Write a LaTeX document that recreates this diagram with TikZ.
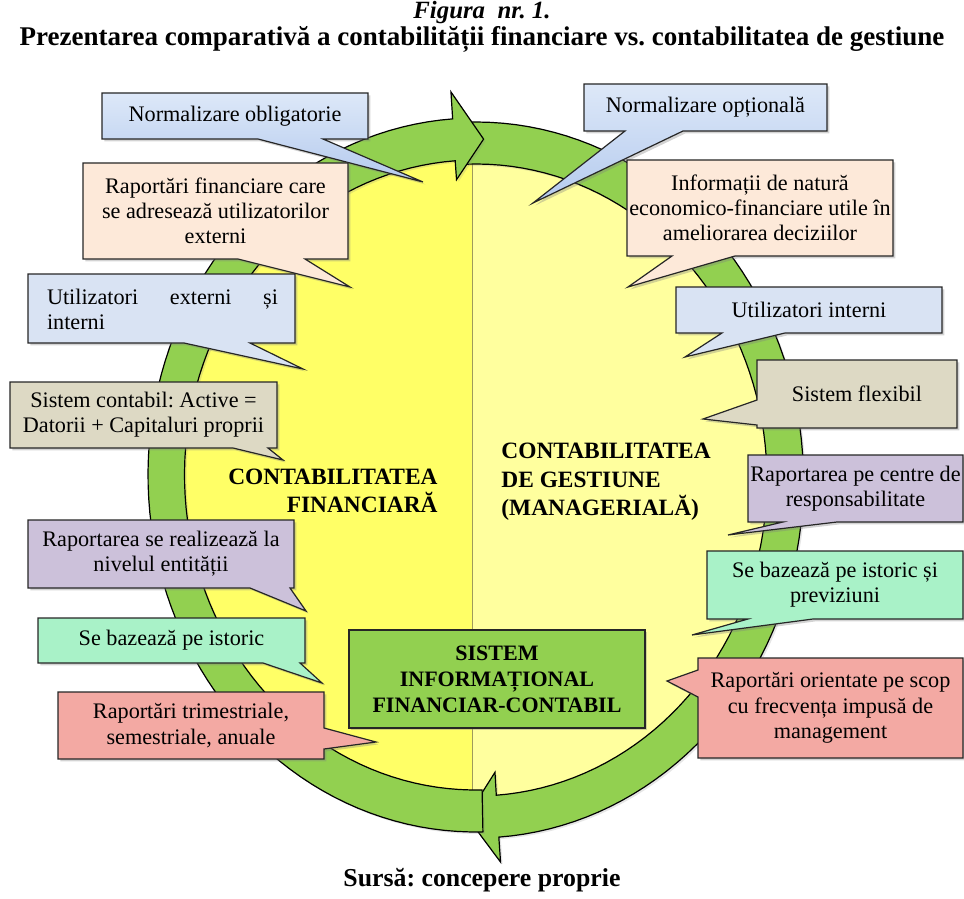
\documentclass[tikz,border=0pt]{standalone}
\usepackage{fontspec}
\setmainfont{Liberation Serif}
\frenchspacing
\usetikzlibrary{shadows}
\definecolor{ringgreen}{HTML}{92D050}
\definecolor{yellowfin}{HTML}{FFFF66}
\definecolor{yellowges}{HTML}{FFFF9E}
\definecolor{bluetop}{HTML}{DDE8F8}
\definecolor{bluebot}{HTML}{B4CAEE}
\definecolor{peach}{HTML}{FDE9D9}
\definecolor{bluegray}{HTML}{D9E3F3}
\definecolor{khaki}{HTML}{DDD9C4}
\definecolor{lavender}{HTML}{CCC1DA}
\definecolor{mint}{HTML}{A9F2C8}
\definecolor{salmon}{HTML}{F3A9A3}
\tikzset{
    callout/.style = {draw=black!85, line width=0.6pt, drop shadow={shadow xshift=1.2pt, shadow yshift=-1.2pt, opacity=0.35}},
    band/.style = {fill=ringgreen, draw=black, line width=0.6pt, drop shadow={shadow xshift=1pt, shadow yshift=-1pt, opacity=0.2}},
    txt/.style = {inner sep=0pt, align=center, font=\fontsize{11.1}{12.6}\selectfont},
    heading/.style = {inner sep=0pt, font=\fontsize{11.7}{14.3}\selectfont\bfseries},
}

\begin{document}
\begin{tikzpicture}[x=0.5pt, y=-0.5pt]
\useasboundingbox (0,0) rectangle (964,899);

% titlu
\node[font=\fontsize{12.4}{14}\selectfont\bfseries\itshape] (fig) at (482,13) {Figura\ \ nr. 1.};
\node[font=\fontsize{13.5}{15}\selectfont\bfseries] (titlu) at (482,39) {Prezentarea comparativă a contabilității financiare vs. contabilitatea de gestiune};

% fondul galben
\begin{scope}
\clip (0,0) rectangle (472,899);
\fill[yellowfin] (475.5,475) ellipse [x radius=300, y radius=330];
\end{scope}
\begin{scope}
\clip (472,0) rectangle (964,899);
\fill[yellowges] (476,480) ellipse [x radius=300, y radius=330];
\end{scope}
\draw[black!40!yellow!70!gray, line width=0.5pt] (472,150) -- (472,800);

% sageata din dreapta
\path[band] plot[domain=268:446, samples=80] ({476+327.5*cos(\x)}, {480+358*sin(\x)})
  -- ({476+352*cos(446)}, {480+383*sin(446)})
  -- ({476+309*cos(451.7)}, {480+337*sin(451.7)})
  -- ({476+272*cos(446)}, {480+293*sin(446)})
  -- plot[domain=446:268, samples=80] ({476+291*cos(\x)}, {480+316*sin(\x)})
  -- cycle;
% sageata din stanga
\path[band] plot[domain=88.7:266, samples=80] ({475.5+327.5*cos(\x)}, {475+357*sin(\x)})
  -- ({475.5+352*cos(266)}, {475+384*sin(266)})
  -- ({475.5+309*cos(271.5)}, {475+336*sin(271.5)})
  -- ({475.5+272*cos(266)}, {475+296*sin(266)})
  -- plot[domain=266:88.7, samples=80] ({475.5+291*cos(\x)}, {475+315*sin(\x)})
  -- cycle;

% casetele din stanga
\path[callout, top color=bluetop, bottom color=bluebot] (102,93) -- (368,93) -- (368,139) -- (323,139) -- (423,182) -- (258,139) -- (102,139) -- cycle;
\node[txt] (nobl) at (235,116) {Normalizare obligatorie};
\path[callout, fill=peach] (83,163) -- (348,163) -- (348,259) -- (305,259) -- (350,287) -- (238,259) -- (83,259) -- cycle;
\node[txt] (rapfin) at (215.5,211) {Raportări financiare care\\se adresează utilizatorilor\\externi};
\path[callout, fill=bluegray] (28,274) -- (295,274) -- (295,343) -- (250,343) -- (303,369) -- (184,343) -- (28,343) -- cycle;
\node[txt, text width=115.5pt, align=left] (utilext) at (162.5,309.5) {Utilizatori\hfill externi\hfill și\\interni};
\path[callout, fill=khaki] (10,382) -- (277,382) -- (277,448) -- (268,448) -- (283,460) -- (233,448) -- (10,448) -- cycle;
\node[txt] (sistcont) at (143.5,415) {Sistem contabil: Active =\\Datorii + Capitaluri proprii};
\path[callout, fill=lavender] (28,520) -- (294,520) -- (294,588) -- (290,588) -- (306,611) -- (250,588) -- (28,588) -- cycle;
\node[txt] (rapent) at (161,554) {Raportarea se realizează la\\nivelul entității};
\path[callout, fill=mint] (38,618) -- (305,618) -- (305,663) -- (300,663) -- (322,683) -- (263,663) -- (38,663) -- cycle;
\node[txt] (istoric) at (171.5,640.5) {Se bazează pe istoric};
\path[callout, fill=salmon] (58,692) -- (324,692) -- (324,728) -- (376,742) -- (324,749) -- (324,759) -- (58,759) -- cycle;
\node[txt] (trim) at (191,725.5) {Raportări trimestriale,\\semestriale, anuale};

% casetele din dreapta
\path[callout, top color=bluetop, bottom color=bluebot] (584,84) -- (827,84) -- (827,131) -- (683,131) -- (533,203) -- (625,131) -- (584,131) -- cycle;
\node[txt] (nopt) at (705.5,107.5) {Normalizare opțională};
\path[callout, fill=peach] (627,160) -- (893,160) -- (893,256) -- (735,256) -- (628,287) -- (672,256) -- (627,256) -- cycle;
\node[txt] (infec) at (760,208) {Informații de natură\\economico-financiare utile în\\ameliorarea deciziilor};
\path[callout, fill=bluegray] (676,287) -- (942,287) -- (942,333) -- (785,333) -- (685,357) -- (722,333) -- (676,333) -- cycle;
\node[txt] (utilint) at (809,310) {Utilizatori interni};
\path[callout, fill=khaki] (757,360) -- (957,360) -- (957,428) -- (757,428) -- (757,425) -- (703,419) -- (757,400) -- cycle;
\node[txt] (flex) at (857,394) {Sistem flexibil};
\path[callout, fill=lavender] (748,455) -- (963,455) -- (963,522) -- (837,522) -- (728,535) -- (783,522) -- (748,522) -- cycle;
\node[txt] (rapcen) at (855.5,488.5) {Raportarea pe centre de\\responsabilitate};
\path[callout, fill=mint] (707,551) -- (963,551) -- (963,619) -- (813,619) -- (692,635) -- (748,619) -- (707,619) -- cycle;
\node[txt] (istprev) at (835,585) {Se bazează pe istoric și\\previziuni};
\path[callout, fill=salmon] (698,658) -- (963,658) -- (963,758) -- (698,758) -- (698,697) -- (667,681) -- (698,670) -- cycle;
\node[txt] (orient) at (830.5,708) {Raportări orientate pe scop\\cu frecvența impusă de\\management};

% etichete
\node[heading, align=right, anchor=east] (cfin) at (438,491) {CONTABILITATEA\\FINANCIARĂ};
\node[heading, align=left, anchor=west] (cges) at (501,482) {CONTABILITATEA\\DE GESTIUNE\\(MANAGERIALĂ)};
\node[callout, fill=ringgreen, inner sep=0pt, minimum width=148pt, minimum height=49pt, align=center,
      font=\fontsize{11}{13}\selectfont\bfseries] (sifc) at (497,679) {SISTEM\\INFORMAȚIONAL\\FINANCIAR-CONTABIL};

\node[font=\fontsize{12.9}{14}\selectfont\bfseries] (sursa) at (482,880) {Sursă: concepere proprie};
\end{tikzpicture}
\end{document}
